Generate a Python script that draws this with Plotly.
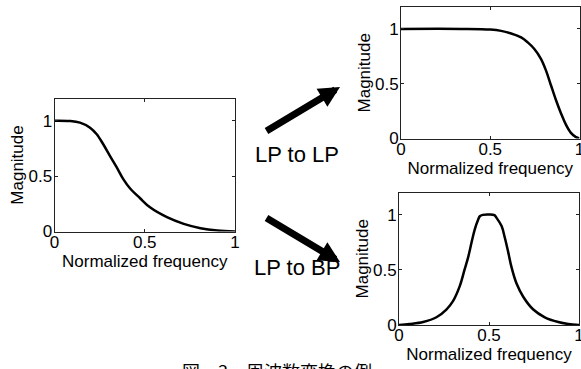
import plotly.graph_objects as go

# ---- data ----
lp_x = [0.0, 0.086, 0.141, 0.197, 0.234, 0.27, 0.307, 0.345, 0.381, 0.418,
        0.474, 0.529, 0.623, 0.716, 0.809, 0.902, 1.0]
lp_y = [1.0, 0.997, 0.982, 0.937, 0.877, 0.787, 0.683, 0.578, 0.473, 0.39,
        0.30, 0.218, 0.129, 0.069, 0.03, 0.009, 0.0]

lp2_x = [0.0, 0.338, 0.5, 0.561, 0.617, 0.673, 0.71, 0.747, 0.784, 0.812,
         0.84, 0.868, 0.896, 0.924, 0.952, 0.98, 1.0]
lp2_y = [1.0, 1.0, 0.994, 0.982, 0.958, 0.922, 0.877, 0.817, 0.727, 0.622,
         0.486, 0.351, 0.231, 0.126, 0.051, 0.012, 0.0]

bp_x = [0.0, 0.059, 0.134, 0.208, 0.263, 0.30, 0.338, 0.365, 0.384, 0.403,
        0.421, 0.44, 0.449, 0.465, 0.5, 0.53, 0.542, 0.57, 0.588, 0.607,
        0.625, 0.653, 0.69, 0.746, 0.81, 0.885, 0.94, 1.0]
bp_y = [0.0, 0.009, 0.027, 0.07, 0.14, 0.216, 0.354, 0.506, 0.613, 0.747,
        0.866, 0.955, 0.985, 0.997, 1.0, 0.995, 0.97, 0.896, 0.79, 0.658,
        0.524, 0.375, 0.256, 0.14, 0.07, 0.027, 0.009, 0.0]

tick_vals = [0, 0.5, 1]
tick_text = ["0", "0.5", "1"]
x_title = "Normalized frequency"
y_title = "Magnitude"
label_up = "LP to LP"
label_down = "LP to BP"
caption = "図　3　周波数変換の例"

FONT = "Liberation Sans, Arial, sans-serif"
W, H = 581, 369

fig = go.Figure()

panels = [
    ("x", "y", lp_x, lp_y, [54.5 / W, 235 / W], [(H - 231.5) / H, (H - 98.5) / H]),
    ("x2", "y2", lp2_x, lp2_y, [401 / W, 579.5 / W], [(H - 138.5) / H, (H - 7) / H]),
    ("x3", "y3", bp_x, bp_y, [399 / W, 579 / W], [(H - 325) / H, (H - 192.5) / H]),
]

layout = dict(
    width=W, height=H,
    margin=dict(l=0, r=0, t=0, b=0),
    paper_bgcolor="white", plot_bgcolor="white",
    showlegend=False,
    font=dict(family=FONT, size=17, color="black"),
)

for i, (xa, ya, xs, ys, xd, yd) in enumerate(panels):
    fig.add_trace(go.Scatter(x=xs, y=ys, mode="lines", xaxis=xa, yaxis=ya,
                             cliponaxis=False,
                             line=dict(color="black", width=2.5, shape="spline",
                                       smoothing=1.0)))
    suffix = "" if i == 0 else str(i + 1)
    common = dict(showline=True, linecolor="#222", linewidth=1, mirror="ticks",
                  ticks="inside", ticklen=3, tickcolor="#222", showgrid=False,
                  zeroline=False, tickvals=tick_vals, ticktext=tick_text,
                  automargin=False, ticklabeloverflow="allow",
                  tickfont=dict(family=FONT, size=17, color="black"))
    layout["xaxis" + suffix] = dict(common, domain=xd, range=[0, 1],
                                    anchor="y" + suffix, ticklabelstandoff=-5,
                                    title=dict(text=x_title, standoff=0,
                                               font=dict(family=FONT, size=17)))
    layout["yaxis" + suffix] = dict(common, domain=yd, range=[0, 1.2],
                                    anchor="x" + suffix, ticklabelstandoff=-2,
                                    title=dict(text=y_title, standoff=0,
                                               font=dict(family=FONT, size=17)))

fig.update_layout(**layout)

# arrows
fig.add_annotation(x=340 / W, y=(H - 87) / H, xref="paper", yref="paper",
                   ax=-75, ay=45, showarrow=True, arrowhead=2, arrowsize=0.6,
                   arrowwidth=7, arrowcolor="black", text="")
fig.add_annotation(x=340 / W, y=(H - 262) / H, xref="paper", yref="paper",
                   ax=-75, ay=-45, showarrow=True, arrowhead=2, arrowsize=0.6,
                   arrowwidth=7, arrowcolor="black", text="")

fig.add_annotation(x=297 / W, y=(H - 155) / H, xref="paper", yref="paper",
                   xanchor="center", yanchor="middle",
                   text=label_up, showarrow=False,
                   font=dict(family=FONT, size=22, color="black"))
fig.add_annotation(x=297 / W, y=(H - 267) / H, xref="paper", yref="paper",
                   xanchor="center", yanchor="middle",
                   text=label_down, showarrow=False,
                   font=dict(family=FONT, size=22, color="black"))

fig.add_annotation(x=180 / W, y=(H - 356) / H, xref="paper", yref="paper",
                   xanchor="left", yanchor="top", text=caption, showarrow=False,
                   font=dict(family="Noto Sans CJK JP", size=18, color="black"))

fig.write_html("out.html", config={"displayModeBar": False},
               post_script="document.body.style.margin='0';"
                           "document.body.style.overflow='hidden';")
